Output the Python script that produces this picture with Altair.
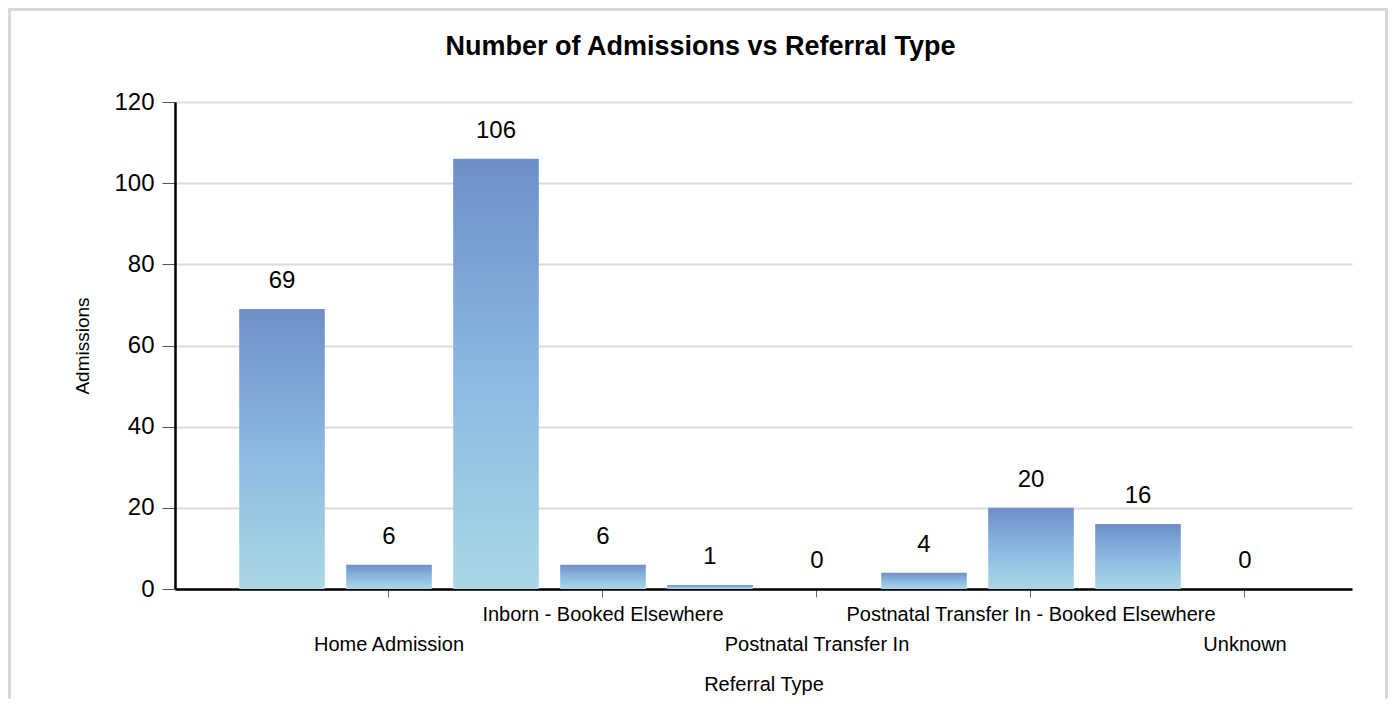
import altair as alt
import pandas as pd

categories = [
    "Antenatal Transfer In",
    "Home Admission",
    "Inborn - Booked Here",
    "Inborn - Booked Elsewhere",
    "Inborn - Unbooked",
    "Postnatal Transfer In",
    "Postnatal Transfer In - Booked Here",
    "Postnatal Transfer In - Booked Elsewhere",
    "Postnatal Transfer In - Unbooked",
    "Unknown",
]
admissions = [69, 6, 106, 6, 1, 0, 4, 20, 16, 0]
upper_labels = ["Inborn - Booked Elsewhere", "Postnatal Transfer In - Booked Elsewhere"]
lower_labels = ["Home Admission", "Postnatal Transfer In", "Unknown"]
y_ticks = [0, 20, 40, 60, 80, 100, 120]

df = pd.DataFrame({"Referral Type": categories, "Admissions": admissions})

FONT = "Liberation Sans, Arial, sans-serif"
W, H = 1177, 487
PAD = {"left": 167, "top": 94, "right": 36, "bottom": 110}

def js_list(items):
    return "[" + ",".join("'" + s + "'" for s in items) + "]"

label_expr = (
    f"indexof({js_list(lower_labels)}, datum.value) >= 0 ? ['', datum.label] : "
    f"(indexof({js_list(upper_labels)}, datum.value) >= 0 ? datum.label : '')"
)
tick_test = f"indexof({js_list(lower_labels + upper_labels)}, datum.value) >= 0"

gradient = alt.LinearGradient(
    gradient="linear",
    stops=[
        alt.GradientStop(color="#aad8e6", offset=0),
        alt.GradientStop(color="#8bb8e0", offset=0.5),
        alt.GradientStop(color="#6d8fc9", offset=1),
    ],
    x1=0, x2=0, y1=1, y2=0,
)

x_enc = alt.X(
    "Referral Type:N",
    sort=None,
    scale=alt.Scale(paddingInner=0.2, paddingOuter=0.6),
    axis=alt.Axis(
        title="Referral Type",
        titleFont=FONT,
        titleFontSize=20,
        titleFontWeight="normal",
        titleColor="#000000",
        titlePadding=20,
        labelFont=FONT,
        labelFontSize=20,
        labelColor="#000000",
        labelAngle=0,
        labelBaseline="top",
        labelLineHeight=30,
        labelPadding=7,
        labelOverlap=False,
        labelLimit=600,
        labelExpr=label_expr,
        tickSize=8,
        tickColor="#666666",
        tickOpacity={"condition": {"test": tick_test, "value": 1}, "value": 0},
        domainColor="#000000",
        domainWidth=2.5,
        grid=False,
    ),
)

y_enc = alt.Y(
    "Admissions:Q",
    scale=alt.Scale(domain=[0, 120], nice=False),
    axis=alt.Axis(
        title="Admissions",
        values=y_ticks,
        titleFont=FONT,
        titleFontSize=19,
        titleFontWeight="normal",
        titleColor="#000000",
        titlePadding=21,
        labelFont=FONT,
        labelFontSize=24,
        labelColor="#000000",
        labelPadding=8,
        tickSize=13,
        tickColor="#555555",
        domainColor="#000000",
        domainWidth=2.5,
        gridColor="#dcdcdc",
        gridWidth=2,
    ),
)

bars = alt.Chart(df).mark_bar(color=gradient).encode(x=x_enc, y=y_enc)

texts = alt.Chart(df).mark_text(
    dy=-21, baseline="alphabetic", fontSize=24, font=FONT, color="#000000"
).encode(
    x=alt.X("Referral Type:N", sort=None),
    y=alt.Y("Admissions:Q"),
    text=alt.Text("Admissions:Q"),
)

frame = alt.Chart(alt.Data(values=[{"f": 1}])).mark_rect(
    fill=None, stroke="#d9d9d9", strokeWidth=3, clip=False
).encode(
    x=alt.value(-PAD["left"] + 1.5),
    x2=alt.value(W + PAD["right"] - 1.5),
    y=alt.value(-PAD["top"] + 1.5),
    y2=alt.value(H + PAD["bottom"] + 20),
)

chart = alt.layer(bars, texts, frame).properties(
    width=W,
    height=H,
    autosize=alt.AutoSizeParams(type="none"),
    padding=PAD,
    title=alt.TitleParams(
        "Number of Admissions vs Referral Type",
        font="Liberation Sans Narrow, Liberation Sans, Arial",
        fontSize=27,
        fontWeight="bold",
        color="#000000",
        anchor="middle",
        baseline="alphabetic",
        dx=-63,
        offset=-74,
    ),
).configure_view(strokeWidth=0)

chart.save("out.html", embed_options={"renderer": "svg", "actions": False})
